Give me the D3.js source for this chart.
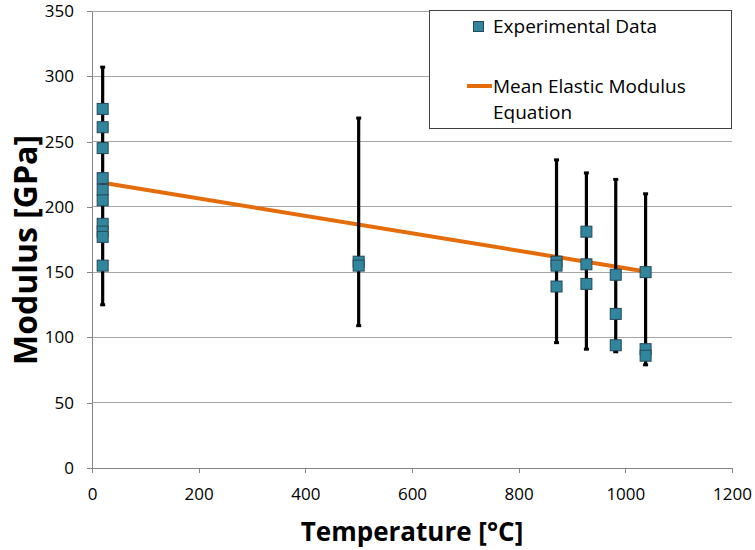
<!DOCTYPE html>
<html>
<head>
<meta charset="utf-8">
<script src="https://cdn.jsdelivr.net/npm/d3@7"></script>
<style>
  body { margin: 0; background: #ffffff; }
  svg { display: block; font-family: "Open Sans", sans-serif; }
</style>
</head>
<body>
<div id="chart"></div>
<script>
// experimental points, grouped by test temperature
const pointTemps = [
  20, 20, 20, 20, 20, 20, 20, 20, 20, 20,
  500, 500,
  871, 871, 871,
  927, 927, 927,
  982, 982, 982,
  1038, 1038, 1038
];
const pointModulus = [
  275, 261, 245, 222, 213, 205, 187, 181, 177, 155,
  158, 155,
  158, 155, 139,
  181, 156, 141,
  148, 118, 94,
  150, 91, 86
];

// error bars, one per temperature
const barTemps = [20, 500, 871, 927, 982, 1038];
const barHigh = [307, 268, 236, 226, 221, 210];
const barLow = [125, 109, 96, 91, 89, 79];

// mean elastic modulus equation
const lineTemps = [20, 1038];
const lineModulus = [218.5, 150.5];

const xTicks = [0, 200, 400, 600, 800, 1000, 1200];
const yTicks = [0, 50, 100, 150, 200, 250, 300, 350];

const width = 755;
const height = 550;
const margin = { top: 11, right: 23, bottom: 82, left: 92 };

const svg = d3.select("#chart")
  .append("svg")
  .attr("width", width)
  .attr("height", height);

const x = d3.scaleLinear()
  .domain([0, 1200])
  .range([margin.left, width - margin.right]);

const y = d3.scaleLinear()
  .domain([0, 350])
  .range([height - margin.bottom, margin.top]);

const gridColor = "#a6a6a6";
const axisColor = "#868686";

// gridlines
svg.append("g")
  .selectAll("line")
  .data(yTicks)
  .join("line")
  .attr("x1", x(0))
  .attr("x2", x(1200))
  .attr("y1", d => y(d))
  .attr("y2", d => y(d))
  .attr("stroke", gridColor)
  .attr("stroke-width", 1)
  .attr("shape-rendering", "crispEdges");

const styleAxis = g => {
  g.select(".domain").attr("stroke", axisColor).attr("shape-rendering", "crispEdges");
  g.selectAll(".tick line").attr("stroke", axisColor).attr("shape-rendering", "crispEdges");
  g.selectAll(".tick text")
    .attr("fill", "#000000")
    .attr("font-size", 17)
    .attr("font-family", "Open Sans, sans-serif");
};

svg.append("g")
  .attr("transform", `translate(${x(0)},0)`)
  .call(d3.axisLeft(y).tickValues(yTicks).tickFormat(d3.format("d"))
    .tickSize(5).tickSizeOuter(0).tickPadding(13))
  .call(styleAxis);

svg.append("g")
  .attr("transform", `translate(0,${y(0)})`)
  .call(d3.axisBottom(x).tickValues(xTicks).tickFormat(d3.format("d"))
    .tickSize(5).tickSizeOuter(0).tickPadding(15))
  .call(styleAxis);

// equation line
const lineData = lineTemps.map((t, i) => [t, lineModulus[i]]);
svg.append("path")
  .datum(lineData)
  .attr("fill", "none")
  .attr("stroke", "#e46c0a")
  .attr("stroke-width", 4)
  .attr("d", d3.line().x(d => x(d[0])).y(d => y(d[1])));

// error bars
const bars = barTemps.map((t, i) => ({ t, hi: barHigh[i], lo: barLow[i] }));
const barG = svg.append("g");
barG.selectAll("line.bar")
  .data(bars)
  .join("line")
  .attr("class", "bar")
  .attr("x1", d => x(d.t))
  .attr("x2", d => x(d.t))
  .attr("y1", d => y(d.hi))
  .attr("y2", d => y(d.lo))
  .attr("stroke", "#000000")
  .attr("stroke-width", 3.2);

barG.selectAll("line.cap")
  .data(bars.flatMap(d => [d.hi, d.lo].map(v => ({ t: d.t, v }))))
  .join("line")
  .attr("class", "cap")
  .attr("x1", d => x(d.t) - 2.5)
  .attr("x2", d => x(d.t) + 2.5)
  .attr("y1", d => y(d.v))
  .attr("y2", d => y(d.v))
  .attr("stroke", "#000000")
  .attr("stroke-width", 3);

// squares
const size = 11;
const points = pointTemps.map((t, i) => ({ t, v: pointModulus[i] }));
svg.append("g")
  .selectAll("rect")
  .data(points)
  .join("rect")
  .attr("x", d => x(d.t) - size / 2)
  .attr("y", d => y(d.v) - size / 2)
  .attr("width", size)
  .attr("height", size)
  .attr("fill", "#31859c")
  .attr("stroke", "#26495a")
  .attr("stroke-width", 1);

// legend
const legend = svg.append("g");
legend.append("rect")
  .attr("x", 429.5)
  .attr("y", 10.5)
  .attr("width", 302)
  .attr("height", 118)
  .attr("fill", "#ffffff")
  .attr("stroke", "#404040")
  .attr("stroke-width", 1);

legend.append("rect")
  .attr("x", 473.5)
  .attr("y", 21.5)
  .attr("width", 10)
  .attr("height", 10)
  .attr("fill", "#31859c")
  .attr("stroke", "#26495a");

legend.append("text")
  .attr("x", 493)
  .attr("y", 33)
  .attr("font-size", 19)
  .text("Experimental Data");

legend.append("line")
  .attr("x1", 467)
  .attr("x2", 492)
  .attr("y1", 86)
  .attr("y2", 86)
  .attr("stroke", "#e46c0a")
  .attr("stroke-width", 4);

legend.append("text")
  .attr("x", 493)
  .attr("y", 93)
  .attr("font-size", 19)
  .text("Mean Elastic Modulus");

legend.append("text")
  .attr("x", 493)
  .attr("y", 119)
  .attr("font-size", 19)
  .text("Equation");

// axis titles
svg.append("text")
  .attr("x", 412)
  .attr("y", 541)
  .attr("text-anchor", "middle")
  .attr("font-size", 26)
  .attr("font-weight", 700)
  .text("Temperature [°C]");

svg.append("text")
  .attr("transform", "translate(37,250) rotate(-90)")
  .attr("text-anchor", "middle")
  .attr("font-size", 32)
  .attr("font-weight", 700)
  .text("Modulus [GPa]");
</script>
</body>
</html>
